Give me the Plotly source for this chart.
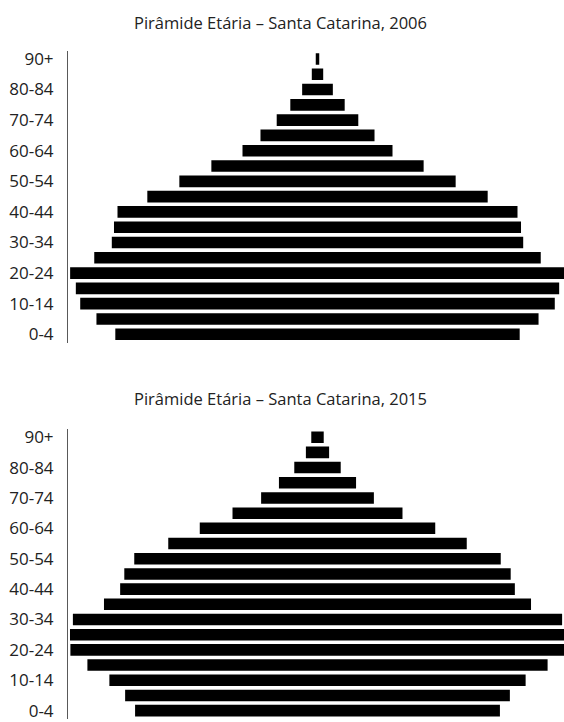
import plotly.graph_objects as go

ages = ["0-4", "5-9", "10-14", "15-19", "20-24", "25-29", "30-34", "35-39",
        "40-44", "45-49", "50-54", "55-59", "60-64", "65-69", "70-74",
        "75-79", "80-84", "85-89", "90+"]
tick_labels = ["0-4", "10-14", "20-24", "30-34", "40-44", "50-54", "60-64",
               "70-74", "80-84", "90+"]

# population per age group (thousands)
pop_2006 = [461, 504, 541, 551, 564, 509, 469, 464, 456, 388, 315, 242,
            171, 130, 93, 62, 35, 13, 4]
pop_2015 = [440, 464, 502, 555, 596, 597, 590, 515, 476, 466, 442, 360,
            284, 205, 136, 93, 56, 28, 15]

title_2006 = "Pirâmide Etária – Santa Catarina, 2006"
title_2015 = "Pirâmide Etária – Santa Catarina, 2015"

W, H = 564, 722
FONT = "Open Sans"
TXT = "#222222"

fig = go.Figure()
fig.add_trace(go.Bar(y=ages, x=pop_2006, base=[-v / 2 for v in pop_2006],
                     orientation="h", marker=dict(color="black", line=dict(width=0)),
                     xaxis="x", yaxis="y", showlegend=False, hoverinfo="skip"))
fig.add_trace(go.Bar(y=ages, x=pop_2015, base=[-v / 2 for v in pop_2015],
                     orientation="h", marker=dict(color="black", line=dict(width=0)),
                     xaxis="x2", yaxis="y2", showlegend=False, hoverinfo="skip"))

left_px, center_px, right_px = 68, 317.5, 564
k1 = 1.14
k2 = 1.206

def yax(dom):
    return dict(domain=dom, type="category", categoryorder="array", categoryarray=ages,
                range=[-0.55, 18.55], tickmode="array", tickvals=tick_labels,
                ticktext=tick_labels, showline=True, linecolor="#595959", linewidth=1,
                showgrid=False, zeroline=False, ticks="", ticklabelstandoff=10,
                tickfont=dict(family=FONT, size=17, color=TXT), fixedrange=True)

def xax(k, anchor):
    return dict(range=[-(center_px - left_px) * k, (right_px - center_px) * k],
                visible=False, showgrid=False, zeroline=False, anchor=anchor,
                domain=[0, 1], fixedrange=True)

fig.update_layout(
    width=W, height=H,
    margin=dict(l=left_px, r=W - right_px, t=0, b=0),
    paper_bgcolor="white", plot_bgcolor="white",
    bargap=0.24,
    xaxis=xax(k1, "y"),
    yaxis=yax([1 - 342 / H, 1 - 47 / H]),
    xaxis2=xax(k2, "y2"),
    yaxis2=yax([0, 1 - 429 / H]),
    annotations=[
        dict(text=title_2006, xref="paper", yref="paper", x=(280 - left_px) / (right_px - left_px),
             y=1 - 19 / H, xanchor="center", yanchor="middle", showarrow=False,
             font=dict(family=FONT, size=16.5, color=TXT)),
        dict(text=title_2015, xref="paper", yref="paper", x=(280 - left_px) / (right_px - left_px),
             y=1 - 398 / H, xanchor="center", yanchor="middle", showarrow=False,
             font=dict(family=FONT, size=16.5, color=TXT)),
    ],
)

fig.write_html("out.html", config={"displayModeBar": False},
               post_script="document.body.style.margin='0';document.body.style.overflow='hidden';")
